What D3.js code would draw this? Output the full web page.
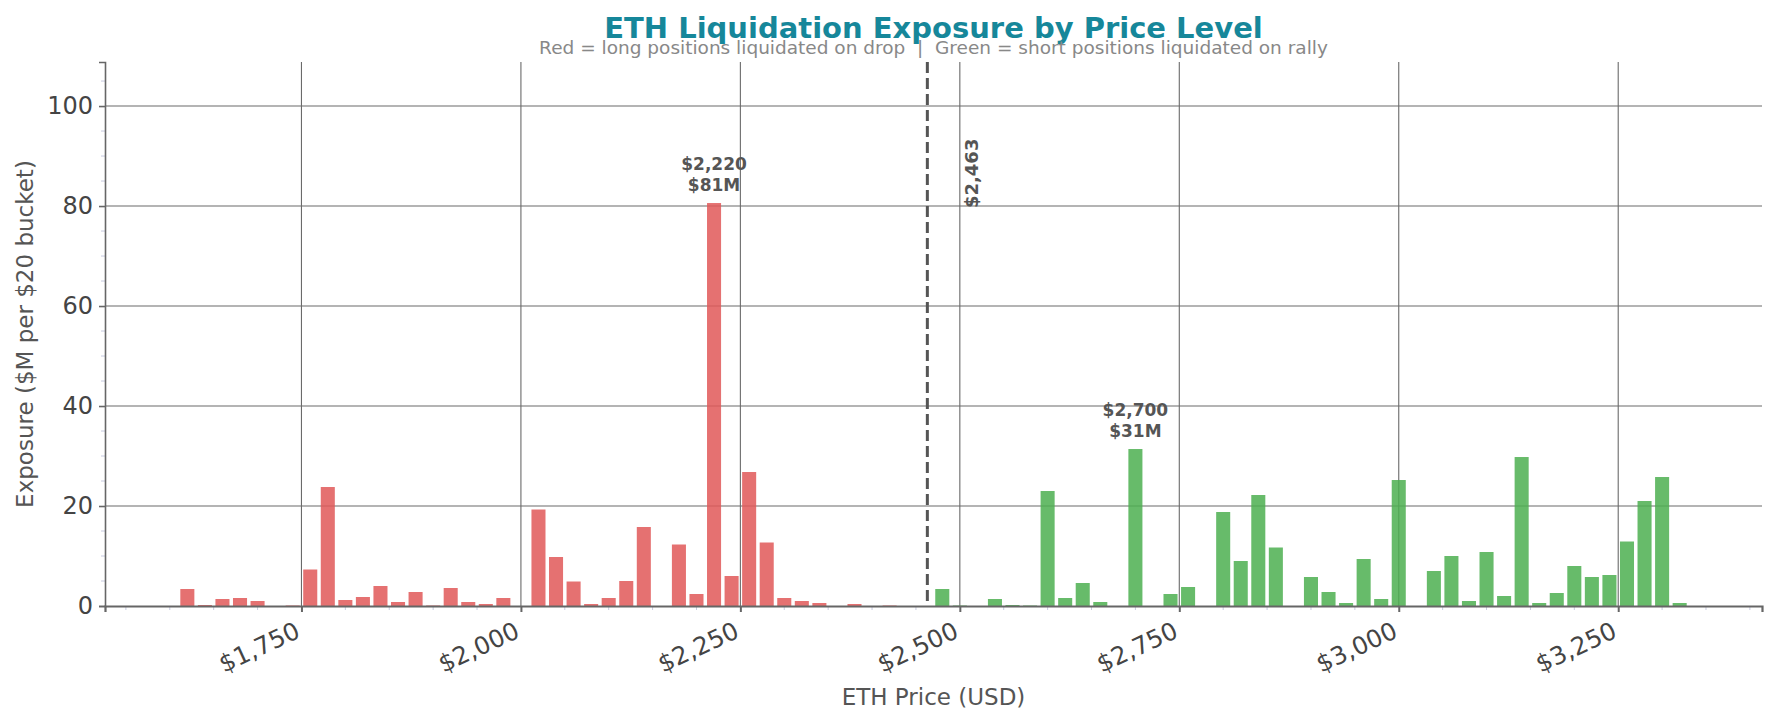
<!DOCTYPE html>
<html>
<head>
<meta charset="utf-8">
<script src="https://cdn.jsdelivr.net/npm/d3@7"></script>
<style>
  body { margin: 0; background: #fff; }
  svg { display: block; font-family: "DejaVu Sans", sans-serif; }
</style>
</head>
<body>
<svg id="chart" width="1776" height="723"></svg>
<script>
// $20 buckets below current price (longs liquidated on a drop)
var longPrices = [1620, 1640, 1660, 1680, 1700, 1740, 1760, 1780, 1800, 1820, 1840, 1860, 1880, 1900,
    1920, 1940, 1960, 1980, 2020, 2040, 2060, 2080, 2100, 2120, 2140, 2180, 2200, 2220, 2240, 2260,
    2280, 2300, 2320, 2340, 2380, 2420];
var longValues = [3.4, 0.2, 1.4, 1.6, 1.0, 0.1, 7.3, 23.8, 1.2, 1.8, 4.0, 0.8, 2.8, 0.1,
    3.6, 0.8, 0.4, 1.6, 19.3, 9.8, 4.9, 0.4, 1.6, 5.0, 15.8, 12.3, 2.4, 80.6, 6.0, 26.8,
    12.7, 1.6, 1.0, 0.6, 0.4, 0.1];

// $20 buckets above current price (shorts liquidated on a rally)
var shortPrices = [2480, 2500, 2540, 2560, 2580, 2600, 2620, 2640, 2660, 2700, 2740, 2760, 2800, 2820,
    2840, 2860, 2900, 2920, 2940, 2960, 2980, 3000, 3040, 3060, 3080, 3100, 3120, 3140, 3160, 3180,
    3200, 3220, 3240, 3260, 3280, 3300, 3320];
var shortValues = [3.4, 0.1, 1.4, 0.2, 0.1, 23.0, 1.6, 4.6, 0.8, 31.4, 2.4, 3.8, 18.8, 9.0,
    22.2, 11.7, 5.8, 2.8, 0.6, 9.4, 1.4, 25.2, 7.0, 10.0, 1.0, 10.8, 2.0, 29.8, 0.6, 2.6,
    8.0, 5.8, 6.2, 12.9, 21.0, 25.8, 0.6];

var currentPrice = 2463;
var bucketSize = 20;
var xTicks = [1750, 2000, 2250, 2500, 2750, 3000, 3250];
var yTicks = [0, 20, 40, 60, 80, 100];
var annotated = [2220, 2700];

var margin = {left: 105, right: 14, top: 62, bottom: 117};
var width = 1776 - margin.left - margin.right,
    height = 723 - margin.top - margin.bottom;

var svg = d3.select("#chart");
var g = svg.append("g")
    .attr("transform", "translate(" + margin.left + "," + margin.top + ")");

var longBars = longPrices.map(function (p, i) { return {price: p, value: longValues[i], side: "long"}; });
var shortBars = shortPrices.map(function (p, i) { return {price: p, value: shortValues[i], side: "short"}; });
var bars = longBars.concat(shortBars);

// matplotlib style 5% margin around the bars
var lo = d3.min(bars, function (d) { return d.price; }) - bucketSize * 0.4;
var hi = d3.max(bars, function (d) { return d.price; }) + bucketSize * 0.4;
var pad = (hi - lo) * 0.05;

var x = d3.scaleLinear()
    .domain([lo - pad, hi + pad])
    .range([0, width]);

var y = d3.scaleLinear()
    .domain([0, d3.max(bars, function (d) { return d.value; }) * 1.35])
    .range([height, 0]);

// grid
g.append("g").selectAll("line")
    .data(xTicks).enter().append("line")
    .attr("x1", function (d) { return x(d); })
    .attr("x2", function (d) { return x(d); })
    .attr("y1", 0).attr("y2", height)
    .attr("stroke", "#6a6a6a").attr("stroke-width", 1.1);
g.append("g").selectAll("line")
    .data(yTicks.slice(1)).enter().append("line")
    .attr("x1", 0).attr("x2", width)
    .attr("y1", function (d) { return y(d); })
    .attr("y2", function (d) { return y(d); })
    .attr("stroke", "#6a6a6a").attr("stroke-width", 1.1);

// bars
g.selectAll("rect.bar")
    .data(bars).enter().append("rect")
    .attr("class", "bar")
    .attr("x", function (d) { return x(d.price - bucketSize * 0.4); })
    .attr("width", x(bucketSize * 0.8) - x(0))
    .attr("y", function (d) { return y(d.value); })
    .attr("height", function (d) { return height - y(d.value); })
    .attr("fill", function (d) { return d.side == "long" ? "#e05858" : "#4caf50"; })
    .attr("fill-opacity", 0.85);

// minor ticks
var xMinor = d3.range(1550, 3401, 50).filter(function (d) { return d % 250 != 0; });
g.append("g").selectAll("line")
    .data(xMinor).enter().append("line")
    .attr("x1", function (d) { return x(d); })
    .attr("x2", function (d) { return x(d); })
    .attr("y1", height).attr("y2", height + 4)
    .attr("stroke", "#c8cbe0").attr("stroke-width", 1);
var yMinor = d3.range(5, 106, 5).filter(function (d) { return d % 20 != 0; });
g.append("g").selectAll("line")
    .data(yMinor).enter().append("line")
    .attr("x1", -4).attr("x2", 0)
    .attr("y1", function (d) { return y(d); })
    .attr("y2", function (d) { return y(d); })
    .attr("stroke", "#c8cbe0").attr("stroke-width", 1);

// X Axis
var xAxisCall = d3.axisBottom(x)
    .tickValues(xTicks)
    .tickSize(6)
    .tickFormat(function (d) { return "$" + d3.format(",")(d); });
var xAxis = g.append("g")
    .attr("transform", "translate(0," + height + ")")
    .call(xAxisCall);
xAxis.select(".domain").attr("stroke", "#666").attr("stroke-width", 2.2);
xAxis.selectAll(".tick line").attr("stroke", "#666").attr("stroke-width", 2);
xAxis.selectAll(".tick text")
    .attr("font-size", "24.5px")
    .attr("fill", "#444")
    .attr("font-family", "DejaVu Sans")
    .attr("text-anchor", "end")
    .attr("dy", null)
    .attr("y", 0)
    .attr("transform", "translate(-8,14) rotate(-25)")
    .attr("dominant-baseline", "hanging");

// Y Axis
var yAxisCall = d3.axisLeft(y)
    .tickValues(yTicks)
    .tickSize(6)
    .tickPadding(6);
var yAxis = g.append("g").call(yAxisCall);
yAxis.select(".domain").attr("stroke", "#666").attr("stroke-width", 1.6);
yAxis.selectAll(".tick line").attr("stroke", "#666").attr("stroke-width", 1.6);
yAxis.selectAll(".tick text")
    .attr("font-size", "24px")
    .attr("fill", "#444")
    .attr("font-family", "DejaVu Sans");

// current price line
g.append("line")
    .attr("x1", x(currentPrice)).attr("x2", x(currentPrice))
    .attr("y1", 0).attr("y2", height)
    .attr("stroke", "#555")
    .attr("stroke-width", 3)
    .attr("stroke-dasharray", "11,5");
g.append("text")
    .attr("transform", "translate(" + (x(currentPrice) + 51) + "," + (y(80.6) + 5) + ") rotate(-90)")
    .attr("font-size", "18px")
    .attr("font-weight", "bold")
    .attr("fill", "#555")
    .text("$" + d3.format(",")(currentPrice));

// peak annotations
annotated.forEach(function (p) {
    var b = bars.find(function (d) { return d.price == p; });
    var t = g.append("text")
        .attr("text-anchor", "middle")
        .attr("font-size", "17px")
        .attr("font-weight", "bold")
        .attr("fill", "#555");
    t.append("tspan")
        .attr("x", x(p)).attr("y", y(b.value) - 33)
        .text("$" + d3.format(",")(p));
    t.append("tspan")
        .attr("x", x(p)).attr("y", y(b.value) - 12)
        .text("$" + Math.round(b.value) + "M");
});

// labels
g.append("text")
    .attr("x", width / 2)
    .attr("y", height + 99)
    .attr("text-anchor", "middle")
    .attr("font-size", "23px")
    .attr("fill", "#555")
    .text("ETH Price (USD)");
g.append("text")
    .attr("transform", "rotate(-90)")
    .attr("x", -height / 2)
    .attr("y", -72)
    .attr("text-anchor", "middle")
    .attr("font-size", "23px")
    .attr("fill", "#555")
    .text("Exposure ($M per $20 bucket)");

svg.append("text")
    .attr("x", margin.left + width / 2)
    .attr("y", 38)
    .attr("text-anchor", "middle")
    .attr("font-size", "29px")
    .attr("font-weight", "bold")
    .attr("fill", "#16879a")
    .text("ETH Liquidation Exposure by Price Level");
svg.append("text")
    .attr("x", margin.left + width / 2)
    .attr("y", 54)
    .attr("text-anchor", "middle")
    .attr("font-size", "18.5px")
    .attr("fill", "#888")
    .style("white-space", "pre")
    .text("Red = long positions liquidated on drop  |  Green = short positions liquidated on rally");
</script>
</body>
</html>
